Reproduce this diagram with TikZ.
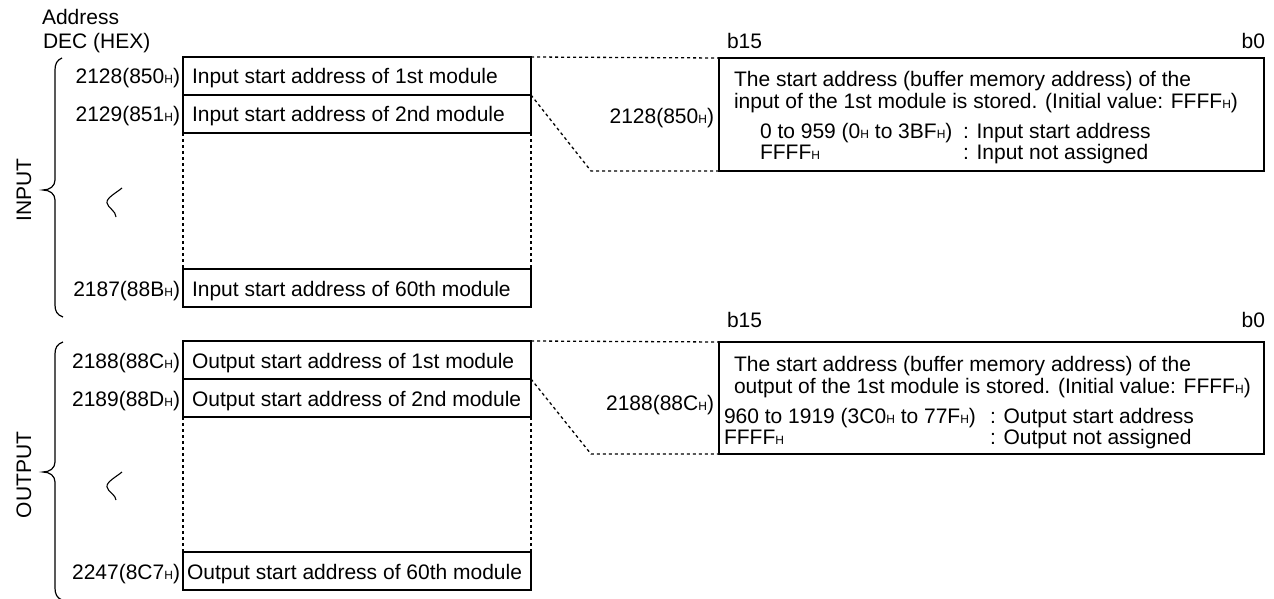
\documentclass[tikz,border=0pt]{standalone}
\usepackage{fontspec}
\setmainfont{Liberation Sans}
\newcommand{\Hs}{{\fontsize{12}{12}\selectfont H}}
\begin{document}
\begin{tikzpicture}[x=1pt,y=-1pt,
  every node/.style={font=\fontsize{21}{25}\selectfont, inner sep=0pt, outer sep=0pt},
  box/.style={draw, line width=1.4pt, minimum width=348pt, minimum height=38pt, anchor=north west},
  rbox/.style={draw, line width=1.4pt, minimum width=545pt, minimum height=113pt, anchor=north west},
  rowtext/.style={anchor=base west},
  lab/.style={anchor=base east},
  dots/.style={line width=1.3pt, dash pattern=on 3pt off 3pt},
  brace/.style={line width=1.2pt},
  wave/.style={line width=1.1pt}]
\useasboundingbox (0,0) rectangle (1274,599);
% header
\node[anchor=base west] (addr) at (42,25) {Address};
\node[anchor=base west] (dec) at (43,49) {DEC (HEX)};
% ---------------- INPUT ----------------
\node[box] (i1) at (183,57) {};
\node[box] (i2) at (183,95) {};
\node[box] (i60) at (183,269) {};
\node[rowtext] (ti1) at (192,84) {Input start address of 1st module};
\node[rowtext] (ti2) at (192,122) {Input start address of 2nd module};
\node[rowtext] (ti60) at (192,296) {Input start address of 60th module};
\node[lab] (li1) at (180,84) {2128(850\Hs)};
\node[lab] (li2) at (180,122) {2129(851\Hs)};
\node[lab] (li60) at (180,296) {2187(88B\Hs)};
\draw[dots] (i2.south west) -- (i60.north west);
\draw[dots] (i2.south east) -- (i60.north east);
\node[rbox] (r1) at (719,58) {};
\node[anchor=base west] (b15a) at (727,49) {b15};
\node[anchor=base east] (b0a) at (1265,49) {b0};
\node[lab] (ra) at (714,124) {2128(850\Hs)};
\node[rowtext] (r1l1) at (734,87) {The start address (buffer memory address) of the};
\node[rowtext] (r1l2) at (734,109) {input of the 1st module is stored. (Initial value: FFFF\Hs)};
\node[rowtext] (r1l3) at (760,139) {0 to 959 (0\Hs{} to 3BF\Hs)};
\node[rowtext] (r1c3) at (963,139) {: Input start address};
\node[rowtext] (r1l4) at (760,160) {FFFF\Hs};
\node[rowtext] (r1c4) at (963,160) {: Input not assigned};
\coordinate (c1) at (591,171);
\draw[dots] (i1.north east) -- (r1.north west);
\draw[dots] (i1.south east) -- (c1) -- (r1.south west);
\draw[brace] (62,58) .. controls (57,60) and (55,64) .. (55,70) -- (55,180)
  .. controls (55,186) and (50,190) .. (43,190)
  .. controls (50,190) and (55,194) .. (55,200) -- (55,305)
  .. controls (55,311) and (57,315) .. (63,317);
\node[rotate=90] (inp) at (24,190) {INPUT};
\draw[wave] (122,188) .. controls (116,193) and (106,198) .. (107,203)
  .. controls (108,208) and (116,211) .. (116,217);
% ---------------- OUTPUT ----------------
\node[box] (o1) at (183,341) {};
\node[box] (o2) at (183,379) {};
\node[box] (o60) at (183,552) {};
\node[rowtext] (to1) at (192,368) {Output start address of 1st module};
\node[rowtext] (to2) at (192,406) {Output start address of 2nd module};
\node[rowtext] (to60) at (187,579) {Output start address of 60th module};
\node[lab] (lo1) at (180,368) {2188(88C\Hs)};
\node[lab] (lo2) at (180,406) {2189(88D\Hs)};
\node[lab] (lo60) at (180,579) {2247(8C7\Hs)};
\draw[dots] (o2.south west) -- (o60.north west);
\draw[dots] (o2.south east) -- (o60.north east);
\node[rbox, minimum height=112pt] (r2) at (719,342) {};
\node[anchor=base west] (b15b) at (727,327) {b15};
\node[anchor=base east] (b0b) at (1265,327) {b0};
\node[lab] (rb) at (714,410) {2188(88C\Hs)};
\node[rowtext] (r2l1) at (734,371) {The start address (buffer memory address) of the};
\node[rowtext] (r2l2) at (734,393) {output of the 1st module is stored. (Initial value: FFFF\Hs)};
\node[rowtext] (r2l3) at (724,423) {960 to 1919 (3C0\Hs{} to 77F\Hs)};
\node[rowtext] (r2c3) at (990,423) {: Output start address};
\node[rowtext] (r2l4) at (724,444) {FFFF\Hs};
\node[rowtext] (r2c4) at (990,444) {: Output not assigned};
\coordinate (c2) at (591,454);
\draw[dots] (o1.north east) -- (r2.north west);
\draw[dots] (o1.south east) -- (c2) -- (r2.south west);
\draw[brace] (63,342) .. controls (57,344) and (55,348) .. (55,354) -- (55,462)
  .. controls (55,468) and (50,472) .. (43,472)
  .. controls (50,472) and (55,476) .. (55,482) -- (55,588)
  .. controls (55,594) and (57,598) .. (62,600);
\node[rotate=90] (outp) at (24,475) {OUTPUT};
\draw[wave] (122,472) .. controls (116,477) and (106,482) .. (107,487)
  .. controls (108,492) and (116,495) .. (116,500);
\end{tikzpicture}
\end{document}
